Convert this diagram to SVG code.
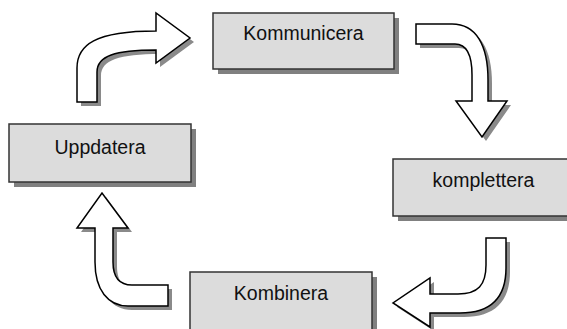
<svg xmlns="http://www.w3.org/2000/svg" width="567" height="329" viewBox="0 0 567 329">
  <style>
    .box { fill: #dcdcdc; stroke: #333333; stroke-width: 1.5; }
    .box-shadow { fill: #808080; }
    .label { font-family: "Liberation Sans", Arial, sans-serif; font-size: 19.5px; fill: #111111; text-anchor: middle; }
    .arrow { fill: #ffffff; stroke: #000000; stroke-width: 1.5; stroke-linejoin: miter; }
    .arrow-shadow { fill: #8a8a8a; }
  </style>
  <defs>
    <path id="arrow-up-right" d="M77,102 L77,68 C77,45 95,31 156,31 L156,13 L190,38 L156,63 L156,50 C115,50 97,56 97,72 L97,102 Z"/>
    <path id="arrow-right-down" d="M416,24 L452,24 C476,24 488,45 488,80 L488,101 L507,101 L482,137 L456,101 L472,101 L472,75 C472,55 466,44 455,44 L416,44 Z"/>
    <path id="arrow-down-left" d="M486,238 L506,238 L506,268 C506,298 490,313 460,313 L430,313 L430,327 L393,303 L430,278 L430,294 L458,294 C478,294 486,285 486,265 Z"/>
    <path id="arrow-left-up" d="M168,285 L168,306 L128,306 C108,306 95,290 95,262 L95,228 L77,228 L102,193 L128,228 L113,228 L113,262 C113,278 120,285 132,285 Z"/>
  </defs>

  <g id="connectors">
    <g id="edge-uppdatera-kommunicera">
      <use href="#arrow-up-right" class="arrow-shadow" transform="translate(4,4)"/>
      <use href="#arrow-up-right" class="arrow"/>
    </g>
    <g id="edge-kommunicera-komplettera">
      <use href="#arrow-right-down" class="arrow-shadow" transform="translate(4,4)"/>
      <use href="#arrow-right-down" class="arrow"/>
    </g>
    <g id="edge-komplettera-kombinera">
      <use href="#arrow-down-left" class="arrow-shadow" transform="translate(4,4)"/>
      <use href="#arrow-down-left" class="arrow"/>
    </g>
    <g id="edge-kombinera-uppdatera">
      <use href="#arrow-left-up" class="arrow-shadow" transform="translate(4,4)"/>
      <use href="#arrow-left-up" class="arrow"/>
    </g>
  </g>

  <g id="node-kommunicera">
    <rect class="box-shadow" x="218" y="18" width="181" height="56"/>
    <rect class="box" x="213" y="13" width="181" height="56"/>
    <text class="label" x="303.5" y="40">Kommunicera</text>
  </g>

  <g id="node-komplettera">
    <rect class="box-shadow" x="398" y="164" width="181" height="57"/>
    <rect class="box" x="393" y="159" width="181" height="57"/>
    <text class="label" x="483.5" y="187">komplettera</text>
  </g>

  <g id="node-kombinera">
    <rect class="box-shadow" x="195" y="277" width="182" height="60"/>
    <rect class="box" x="190" y="272" width="182" height="60"/>
    <text class="label" x="281" y="300">Kombinera</text>
  </g>

  <g id="node-uppdatera">
    <rect class="box-shadow" x="14" y="129" width="182" height="58"/>
    <rect class="box" x="9" y="124" width="182" height="58"/>
    <text class="label" x="100" y="154">Uppdatera</text>
  </g>
</svg>
